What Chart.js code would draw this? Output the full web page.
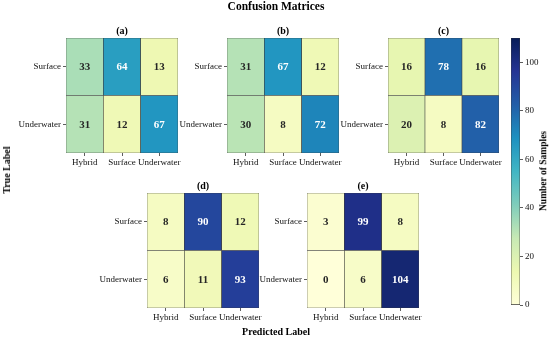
<!DOCTYPE html>
<html><head><meta charset="utf-8">
<script src="https://cdn.jsdelivr.net/npm/chart.js@4/dist/chart.umd.min.js"></script>
<style>
html,body{margin:0;padding:0;background:#fff;}
#wrap{position:relative;width:550px;height:339px;overflow:hidden;font-family:'Liberation Serif','Times New Roman',serif;}
canvas{position:absolute;left:0;top:0;z-index:1;}
.lbl{position:absolute;z-index:2;font-weight:bold;color:#000;white-space:nowrap;transform:translate(-50%,-50%);line-height:1;}
</style></head><body>
<div id="wrap">
<div class="lbl" style="left:276px;top:7px;font-size:11.5px">Confusion Matrices</div>
<div class="lbl" style="left:7px;top:170px;font-size:10px;transform:translate(-50%,-50%) rotate(-90deg)">True Label</div>
<div class="lbl" style="left:276px;top:332px;font-size:10px">Predicted Label</div>
<div class="lbl" style="left:544px;top:171px;font-size:9.5px;transform:translate(-50%,-50%) rotate(-90deg)">Number of Samples</div>
</div>
<script>
// ---- data ----
const panelTitles = ['(a)', '(b)', '(c)', '(d)', '(e)'];
const predictedLabels = ['Hybrid', 'Surface', 'Underwater'];
const trueLabels = ['Surface', 'Underwater'];
const surfaceRow = [[33, 64, 13], [31, 67, 12], [16, 78, 16], [8, 90, 12], [3, 99, 8]];
const underwaterRow = [[31, 12, 67], [30, 8, 72], [20, 8, 82], [6, 11, 93], [0, 6, 104]];
const colorbarTicks = [0, 20, 40, 60, 80, 100];
const colorMin = 0;
const colorMax = 110;

// ---- styling ----
const FONT = "'Liberation Serif', 'Times New Roman', serif";
const W = 550, H = 339;
const boxes = [
  {x0: 66, y0: 38, x1: 178, y1: 153},
  {x0: 227, y0: 38, x1: 339, y1: 153},
  {x0: 388, y0: 38, x1: 499, y1: 153},
  {x0: 147, y0: 193, x1: 259, y1: 308},
  {x0: 307, y0: 193, x1: 419, y1: 308}
];
const YW = 60, XH = 20;
const ylgnbu = ['#ffffd9', '#edf8b1', '#c7e9b4', '#7fcdbb', '#41b6c4', '#1d91c0', '#225ea8', '#253494', '#081d58'];
const stops = ylgnbu.map(h => [parseInt(h.slice(1, 3), 16), parseInt(h.slice(3, 5), 16), parseInt(h.slice(5, 7), 16)]);
function cmapRGB(v) {
  let t = (v - colorMin) / (colorMax - colorMin);
  t = Math.max(0, Math.min(1, t));
  const p = t * (stops.length - 1);
  const i = Math.min(stops.length - 2, Math.floor(p));
  const f = p - i;
  return stops[i].map((c, k) => Math.round(c + (stops[i + 1][k] - c) * f));
}
function rgbStr(c) { return 'rgb(' + c.join(',') + ')'; }
function luminance(c) {
  const l = c.map(x => { x /= 255; return x <= 0.03928 ? x / 12.92 : Math.pow((x + 0.055) / 1.055, 2.4); });
  return 0.2126 * l[0] + 0.7152 * l[1] + 0.0722 * l[2];
}

const wrap = document.getElementById('wrap');
function makeCanvas() {
  const c = document.createElement('canvas');
  c.width = W; c.height = H;
  c.style.width = W + 'px'; c.style.height = H + 'px';
  wrap.insertBefore(c, wrap.firstChild);
  return c;
}

const cellTextPlugin = {
  id: 'cellText',
  afterDatasetsDraw(chart) {
    const ctx = chart.ctx;
    ctx.save();
    ctx.font = 'bold 11px ' + FONT;
    ctx.textAlign = 'center';
    ctx.textBaseline = 'middle';
    chart.data.datasets.forEach((ds, d) => {
      const meta = chart.getDatasetMeta(d);
      meta.data.forEach((el, j) => {
        const v = ds.cellValues[j];
        const lum = luminance(cmapRGB(v));
        ctx.fillStyle = lum > 0.408 ? '#262626' : '#ffffff';
        ctx.fillText(String(v), el.x, (el.y + el.base) / 2 + 0.5);
      });
    });
    const t = chart.options.plugins.panelTitle;
    if (t && t.text) {
      ctx.fillStyle = '#000';
      ctx.font = 'bold 10px ' + FONT;
      ctx.fillText(t.text, (chart.chartArea.left + chart.chartArea.right) / 2, chart.chartArea.top - 7);
    }
    ctx.restore();
  }
};

panelTitles.forEach((title, i) => {
  const b = boxes[i];
  const rows = [surfaceRow[i], underwaterRow[i]];
  const datasets = rows.map((vals, r) => ({
    label: trueLabels[r],
    data: vals.map(() => 1),
    cellValues: vals,
    backgroundColor: vals.map(v => rgbStr(cmapRGB(v))),
    borderColor: '#3a3a3a',
    borderWidth: 0.6,
    borderSkipped: false,
    barPercentage: 1,
    categoryPercentage: 1
  })).reverse();
  new Chart(makeCanvas(), {
    type: 'bar',
    data: {labels: predictedLabels, datasets},
    plugins: [cellTextPlugin],
    options: {
      responsive: false, animation: false, devicePixelRatio: 1,
      layout: {padding: {left: b.x0 - YW, top: b.y0, right: W - b.x1, bottom: H - b.y1 - XH}},
      plugins: {legend: {display: false}, tooltip: {enabled: false}, panelTitle: {text: title}},
      scales: {
        x: {
          type: 'category', stacked: true, offset: true,
          grid: {display: true, drawOnChartArea: false, drawTicks: true, tickLength: 3, color: '#333', lineWidth: 0.8, offset: false},
          border: {display: false},
          ticks: {font: {family: FONT, size: 9}, color: '#111', padding: 1, maxRotation: 0, autoSkip: false},
          afterFit(s) { s.height = XH; }
        },
        y: {
          type: 'linear', stacked: true, min: 0, max: trueLabels.length,
          afterBuildTicks(s) { s.ticks = trueLabels.map((_, r) => ({value: trueLabels.length - r - 0.5})); },
          grid: {display: true, drawOnChartArea: false, drawTicks: true, tickLength: 3, color: '#333', lineWidth: 0.8},
          border: {display: false},
          ticks: {font: {family: FONT, size: 9}, color: '#111', padding: 2,
            callback: (v) => trueLabels[Math.round(trueLabels.length - 0.5 - v)]},
          afterFit(s) { s.width = YW; }
        }
      }
    }
  });
});

// ---- colorbar ----
const cb = {x0: 511, y0: 38, x1: 520, y1: 305};
const CBW = 25;
new Chart(makeCanvas(), {
  type: 'bar',
  data: {labels: [''], datasets: [{
    data: [[colorMin, colorMax]],
    backgroundColor(context) {
      const chart = context.chart;
      const ys = chart.scales.y;
      if (!chart.chartArea || !ys) return '#ccc';
      const g = chart.ctx.createLinearGradient(0, ys.getPixelForValue(colorMin), 0, ys.getPixelForValue(colorMax));
      ylgnbu.forEach((c, k) => g.addColorStop(k / (ylgnbu.length - 1), c));
      return g;
    },
    borderColor: '#3a3a3a', borderWidth: 0.7, borderSkipped: false,
    barPercentage: 1, categoryPercentage: 1
  }]},
  options: {
    responsive: false, animation: false, devicePixelRatio: 1,
    layout: {padding: {left: cb.x0, top: cb.y0, right: W - cb.x1 - CBW, bottom: H - cb.y1}},
    plugins: {legend: {display: false}, tooltip: {enabled: false}},
    scales: {
      x: {display: false, offset: true},
      y: {
        position: 'right', min: colorMin, max: colorMax,
        afterBuildTicks(s) { s.ticks = colorbarTicks.map(v => ({value: v})); },
        grid: {display: true, drawOnChartArea: false, drawTicks: true, tickLength: 3, color: '#333', lineWidth: 0.8},
        border: {display: false},
        ticks: {font: {family: FONT, size: 9}, color: '#111', padding: 2},
        afterFit(s) { s.width = CBW; }
      }
    }
  }
});
</script>
</body></html>
